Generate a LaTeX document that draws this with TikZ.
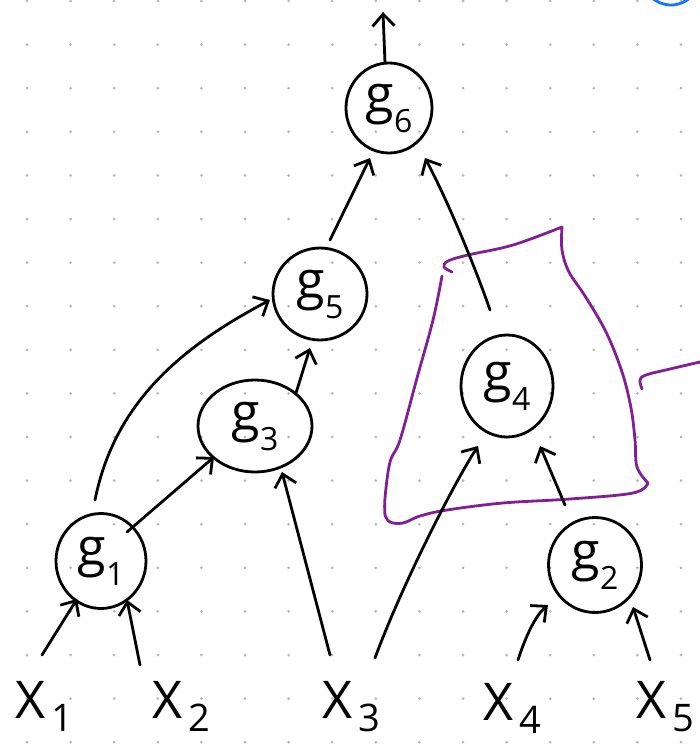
\documentclass[tikz,border=0pt]{standalone}
\usepackage{fontspec}
\setmainfont{Open Sans}
\usetikzlibrary{arrows.meta,shapes.geometric,calc}
\definecolor{pur}{RGB}{128,32,148}
\definecolor{dotc}{RGB}{182,182,182}
\definecolor{blu}{RGB}{20,120,250}
\newcommand{\glab}[1]{{\fontsize{52}{52}\selectfont g}\raisebox{-20pt}{\fontsize{32}{32}\selectfont #1}}
\newcommand{\xlab}[1]{{\fontsize{52}{52}\selectfont X}\hspace{6pt}\raisebox{-13pt}{\fontsize{38}{38}\selectfont #1}}
\begin{document}
\begin{tikzpicture}[x=1pt,y=-1pt,
  gnode/.style={ellipse,draw,line width=2.8pt,inner sep=0pt},
  xnode/.style={inner sep=0pt,anchor=base west},
  arr/.style={line width=2.8pt,line cap=round,line join=round,-{Straight Barb[length=12pt,width=22pt]}},
  purline/.style={pur,line width=2.8pt,line cap=round,line join=round}]
\useasboundingbox (0,0) rectangle (700,746);
\fill[white] (0,0) rectangle (700,746);
% dot grid
\foreach \i in {0,...,15}
  \foreach \j in {0,...,17}
    \fill[dotc] (27+43.6*\i, 742.2-43.6*\j) circle (1.5pt);
% blue arc at top right
\begin{scope}
  \clip (0,0) rectangle (700,746);
  \draw[blu,line width=2.8pt] (671,-24) circle (29pt);
\end{scope}
% nodes
\node[gnode,minimum width=86pt,minimum height=90pt] (g6) at (389,108) {\glab{6}};
\node[gnode,minimum width=94pt,minimum height=92pt] (g5) at (320,294) {\glab{5}};
\node[gnode,minimum width=114pt,minimum height=92pt] (g3) at (255,426) {\glab{3}};
\node[gnode,minimum width=90pt,minimum height=95pt] (g1) at (101,561) {\glab{1}};
\node[gnode,minimum width=92pt,minimum height=102pt] (g4) at (507,386) {\glab{4}};
\node[gnode,minimum width=93pt,minimum height=95pt] (g2) at (595,565) {\glab{2}};
\node[xnode] (x1) at (15,718) {\xlab{1}};
\node[xnode] (x2) at (152,718) {\xlab{2}};
\node[xnode] (x3) at (322,718) {\xlab{3}};
\node[xnode] (x4) at (483,720) {\xlab{4}};
\node[xnode] (x5) at (636,718) {\xlab{5}};
\coordinate (top) at (383,12);
% purple outline
\draw[purline]
  plot[smooth,tension=0.6] coordinates {(452,272) (444,267) (448,261) (468,255) (513,245) (562,227)}
  -- plot[smooth,tension=0.6] coordinates {(562,227) (562,250) (569,272) (585,296) (606,332) (622,372) (631,408) (635,440) (637,467) (648,483)}
  -- plot[smooth,tension=0.6] coordinates {(648,483) (633,493) (570,499) (503,503) (447,510) (420,516) (403,523) (390,522) (385,515)}
  -- plot[smooth,tension=0.6] coordinates {(385,515) (385,498) (390,462) (400,440) (417,378) (433,320) (442,276)};
\draw[purline] plot[smooth,tension=0.6] coordinates {(642,389) (640,380) (646,375) (670,369) (700,362)};
% arrows
\draw[arr] ($(g6)+(-4,-45)$) -- (top);
\draw[arr] ($(g5)+(10,-54)$) -- ($(g6)+(-19,50)$);
\draw[arr] ($(g4)+(-17,-76)$) .. controls ($(g4)+(-29,-111)$) and ($(g6)+(61,97)$) .. ($(g6)+(36,50)$);
\draw[arr] ($(g3)+(41,-33)$) -- ($(g5)+(-10,54)$);
\draw[arr] ($(g1)+(-6,-61)$) .. controls ($(g1)+(14,-161)$) and ($(g5)+(-135,51)$) .. ($(g5)+(-50,6)$);
\draw[arr] ($(g1)+(26,-29)$) -- ($(g3)+(-41,31)$);
\draw[arr] ($(x3.base west)+(8,-63)$) -- ($(g3)+(27,46)$);
\draw[arr] ($(x1.base west)+(27,-63)$) -- ($(g1)+(-24,38)$);
\draw[arr] ($(x2.base west)+(-12,-53)$) -- ($(g1)+(26,39)$);
\draw[arr] ($(x3.base west)+(53,-60)$) .. controls ($(x3.base west)+(78,-128)$) and ($(g4)+(-57,104)$) .. ($(g4)+(-29,60)$);
\draw[arr] ($(g2)+(-30,-60)$) -- ($(g4)+(33,60)$);
\draw[arr] ($(x4.base west)+(35,-60)$) .. controls +(8,-25) and +(-12,10) .. ($(g2)+(-47,40)$);
\draw[arr] ($(x5.base west)+(14,-58)$) -- ($(g2)+(38,42)$);
\end{tikzpicture}
\end{document}
